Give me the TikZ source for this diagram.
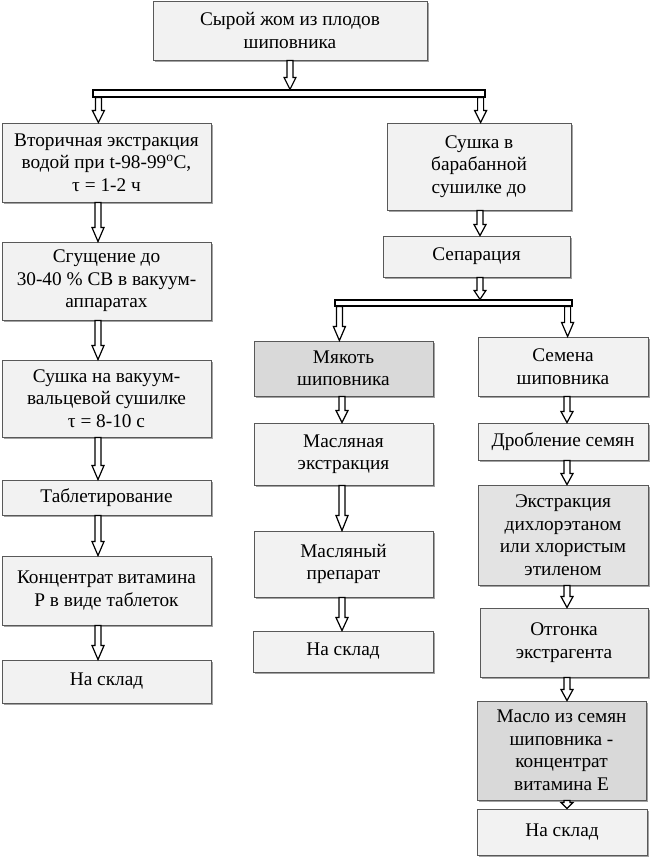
\documentclass[tikz,border=0pt]{standalone}
\usepackage{fontspec}
\setmainfont{Liberation Serif}
\usetikzlibrary{calc,shadows}

\newcommand{\flowfont}{\fontsize{19.3}{22.5}\selectfont}

\tikzset{
  box/.style={draw=black!65, line width=0.9pt, fill=black!5, align=center,
    inner sep=0pt, font=\flowfont,
    drop shadow={shadow xshift=1.8pt, shadow yshift=-1.8pt, fill=black!60, opacity=0.6}},
  darkbox/.style={box, fill=black!15},
  midbox/.style={box, fill=black!11},
  splitbar/.style={draw=black, fill=white, line width=1.2pt, inner sep=0pt},
  barrow/.style={draw=black, fill=white, line width=1.2pt,
    to path={let \p1=(\tikztostart), \p2=(\tikztotarget) in
      (\x1-3pt,\y1) -- (\x1-3pt,\y2+#1pt) -- (\x1-6pt,\y2+#1pt) -- (\x1,\y2)
      -- (\x1+6pt,\y2+#1pt) -- (\x1+3pt,\y2+#1pt) -- (\x1+3pt,\y1) -- cycle}},
  barrow/.default=14
}

\begin{document}
\begin{tikzpicture}[x=1pt, y=-1pt]
  \useasboundingbox (0,0) rectangle (650,859);

  % Raw material
  \node[box, minimum width=274, minimum height=59] (top) at (290,30.5) {Сырой жом из плодов\\шиповника};
  \node[splitbar, minimum width=392, minimum height=7] (split1) at (289,93.5) {};

  % Left branch: vitamin P
  \node[box, minimum width=209, minimum height=79] (L1) at (106.5,162.5) {Вторичная экстракция\\водой при t-98-99\textsuperscript{o}C,\\τ = 1-2 ч};
  \node[box, minimum width=209, minimum height=78] (L2) at (106.5,281) {Сгущение до\\30-40 \% СВ в вакуум-\\аппаратах};
  \node[box, minimum width=209, minimum height=77] (L3) at (106.5,398.5) {Сушка на вакуум-\\вальцевой сушилке\\τ = 8-10 с};
  \node[box, minimum width=209, minimum height=35] (L4) at (106.5,497.5) {Таблетирование};
  \node[box, minimum width=209, minimum height=69] (L5) at (106.5,590.5) {Концентрат витамина\\Р в виде таблеток};
  \node[box, minimum width=209, minimum height=43] (L6) at (106.5,681.5) {На склад};

  % Right branch: drying and separation
  \node[box, minimum width=184, minimum height=87] (R1) at (479,166.5) {Сушка в\\барабанной\\сушилке до};
  \node[box, minimum width=187, minimum height=41] (R2) at (476.5,256.5) {Сепарация};
  \node[splitbar, minimum width=237, minimum height=6] (split2) at (453.5,303) {};

  % Pulp
  \node[darkbox, minimum width=179, minimum height=55] (M1) at (343.5,368.5) {Мякоть\\шиповника};
  \node[box, minimum width=179, minimum height=62] (M2) at (343.5,454) {Масляная\\экстракция};
  \node[box, minimum width=179, minimum height=66] (M3) at (343.5,564) {Масляный\\препарат};
  \node[box, minimum width=180, minimum height=41] (M4) at (343,651.5) {На склад};

  % Seeds
  \node[box, minimum width=170, minimum height=59] (S1) at (563,366.5) {Семена\\шиповника};
  \node[box, minimum width=170, minimum height=37] (S2) at (563,441.5) {Дробление семян};
  \node[midbox, minimum width=170, minimum height=100] (S3) at (563,535) {Экстракция\\дихлорэтаном\\или хлористым\\этиленом};
  \node[box, fill=black!8, minimum width=168, minimum height=69] (S4) at (564,642.5) {Отгонка\\экстрагента};
  \node[darkbox, minimum width=169, minimum height=99] (S5) at (561.5,750.5) {Масло из семян\\шиповника -\\концентрат\\витамина Е};
  \node[box, minimum width=170, minimum height=46] (S6) at (562,832) {На склад};

  % Arrows
  \draw[barrow=12] (top.south) to (split1.north);
  \draw[barrow=12] ([xshift=6]split1.south west) to (L1.north);
  \draw[barrow=12] ([xshift=-5]split1.south east) to (R1.north);
  \foreach \a/\b in {L1/L2,L2/L3,L3/L4,L4/L5,L5/L6}
    \draw[barrow] ([xshift=-8.5]\a.south) to (\b.north);
  \draw[barrow=11] ([xshift=1]R1.south) to (R2.north);
  \draw[barrow=9] ([xshift=3.5]R2.south) to (split2.north);
  \draw[barrow] ([xshift=5]split2.south west) to (M1.north);
  \draw[barrow] ([xshift=-5]split2.south east) to (S1.north);
  \foreach \a/\b/\h in {M1/M2/12,M2/M3/15,M3/M4/13}
    \draw[barrow=\h] ([xshift=-1.5]\a.south) to (\b.north);
  \foreach \a/\b in {S1/S2,S2/S3,S3/S4}
    \draw[barrow=11] ([xshift=4]\a.south) to (\b.north);
  \draw[barrow=11] ([xshift=3]S4.south) to (S5.north);
  \draw[barrow=6] ([xshift=5.5]S5.south) to (S6.north);

\end{tikzpicture}
\end{document}
